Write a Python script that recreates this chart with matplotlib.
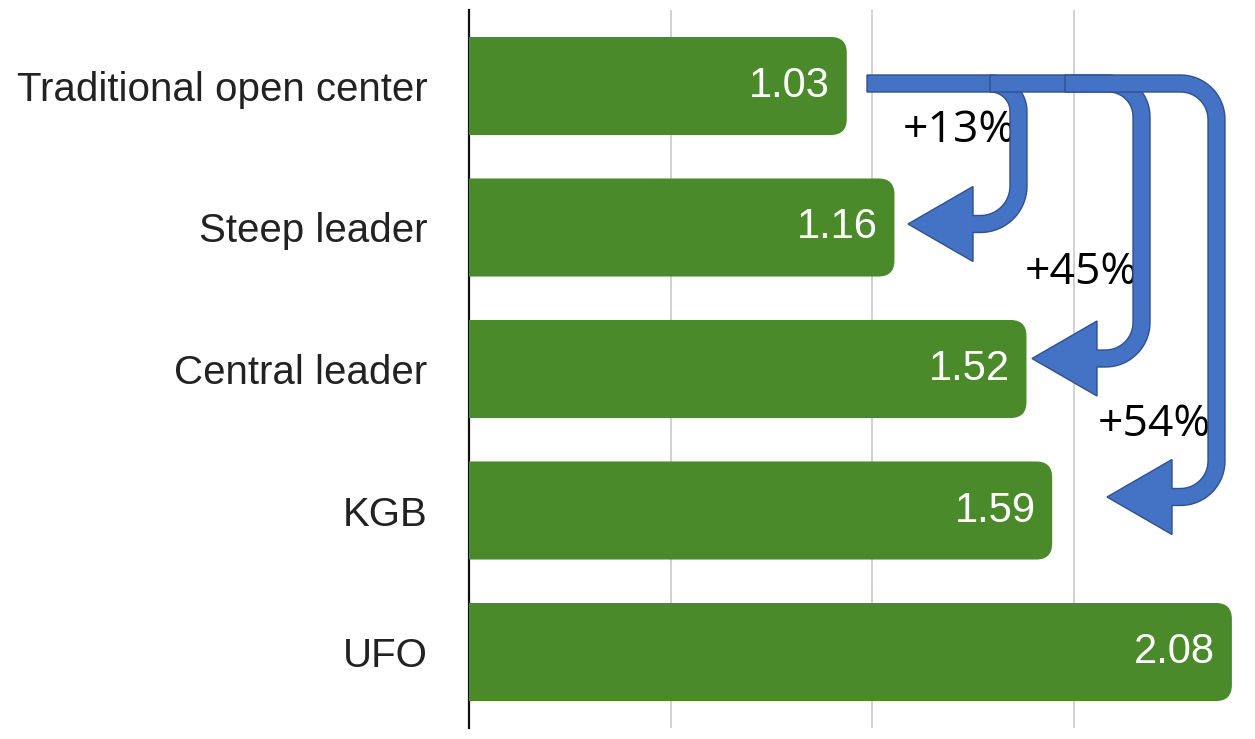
import numpy as np
import matplotlib
matplotlib.use('Agg')
import matplotlib.pyplot as plt
from matplotlib.patches import FancyBboxPatch, PathPatch
from matplotlib.path import Path

# ===== DONNEES =====
categories = ['Traditional open center', 'Steep leader', 'Central leader', 'KGB', 'UFO']
values = [1.03, 1.16, 1.52, 1.59, 2.08]
gains = ['+13%', '+45%', '+54%']
grid_values = [0.55, 1.10, 1.65]

W, H = 1255, 739
bar_color = '#4a8a2b'
arrow_fill = '#4472C4'
arrow_edge = '#2F528F'

plt.rcParams['font.family'] = ['Liberation Sans', 'DejaVu Sans']

fig = plt.figure(figsize=(W / 100, H / 100), dpi=100)
ax = fig.add_axes([469 / W, 11 / H, (W - 469) / W, 718 / H])

x_max = 2.143
ax.set_xlim(0, x_max)
ax.set_ylim(len(categories) - 0.463, -0.537)

# échelle px/unité pour arrondir les coins sans déformation
px_x = (W - 469) / x_max
px_y = 718 / len(categories) / 1.015
radius = 16 / px_x
aspect = px_x / px_y

bar_h = 0.693
for i, v in enumerate(values):
    box = FancyBboxPatch((-0.1, i - bar_h / 2), v + 0.1, bar_h,
                         boxstyle=f"round,pad=0,rounding_size={radius}",
                         mutation_aspect=aspect, facecolor=bar_color,
                         edgecolor='none', zorder=3)
    ax.add_patch(box)
    ax.annotate(f"{v:.2f}", xy=(v, i), xytext=(-12, 0), textcoords='offset points',
                ha='right', va='center', color='white', fontsize=30, zorder=4)

for g in grid_values:
    ax.axvline(g, color='#c9c9c9', lw=1.2, zorder=1)

ax.set_yticks(range(len(categories)))
ax.set_yticklabels(categories, fontsize=29, color='#222222')
ax.tick_params(axis='y', length=0, pad=30)
ax.set_xticks([])
for s in ['top', 'right', 'bottom']:
    ax.spines[s].set_visible(False)
ax.spines['left'].set_linewidth(1.6)
ax.spines['left'].set_color('#111111')
ax.set_facecolor('none')

# ===== FLECHES (calque en pixels) =====
ov = fig.add_axes([0, 0, 1, 1])
ov.set_xlim(0, W)
ov.set_ylim(H, 0)
ov.axis('off')
ov.set_facecolor('none')


def arc(cx, cy, r, a0, a1, n=20):
    t = np.radians(np.linspace(a0, a1, n))
    return list(zip(cx + r * np.cos(t), cy + r * np.sin(t)))


def arrow_path(x0, y0, xr, y1, xtip, r_top, r_bot, w=17, head_len=65, head_w=75):
    h = w / 2
    xb = xtip + head_len
    pts = [(x0, y0 - h), (xr - r_top, y0 - h)]
    pts += arc(xr - r_top, y0 + r_top, r_top + h, -90, 0)
    pts += [(xr + h, y1 - r_bot)]
    pts += arc(xr - r_bot, y1 - r_bot, r_bot + h, 0, 90)
    pts += [(xb, y1 + h), (xb, y1 + head_w / 2), (xtip, y1), (xb, y1 - head_w / 2), (xb, y1 - h),
            (xr - r_bot, y1 - h)]
    pts += arc(xr - r_bot, y1 - r_bot, r_bot - h, 90, 0)
    pts += [(xr - h, y0 + r_top)]
    pts += arc(xr - r_top, y0 + r_top, r_top - h, 0, -90)
    pts += [(x0, y0 + h), (x0, y0 - h)]
    return Path(pts, closed=True)


arrows = [
    (867, 83.5, 1018.5, 224, 908, 28, 38),
    (990, 83.5, 1141.5, 358.5, 1032, 33, 36),
    (1065, 83.5, 1216.5, 497, 1107, 36, 36),
]
label_pos = [(903, 131), (1025, 273), (1098, 425)]

for (lx, ly), txt in zip(label_pos, gains):
    ov.text(lx, ly, txt, fontsize=32, family=['Open Sans', 'DejaVu Sans'],
            color='black', ha='left', va='center', zorder=1)

for k, a in enumerate(arrows):
    p = PathPatch(arrow_path(*a), facecolor=arrow_fill, edgecolor=arrow_edge,
                  lw=1.0, zorder=2 + k)
    ov.add_patch(p)

fig.savefig('out.png', dpi=100, facecolor='white')
